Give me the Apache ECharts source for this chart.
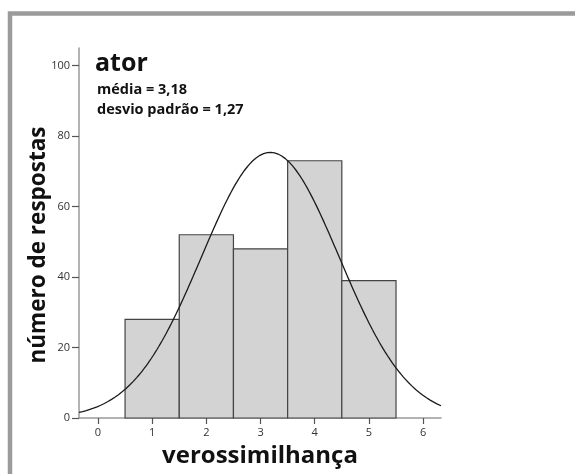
<!DOCTYPE html>
<html>
<head>
<meta charset="utf-8">
<script src="https://cdn.jsdelivr.net/npm/echarts@6/dist/echarts.min.js"></script>
<style>
  html, body { margin: 0; padding: 0; background: #fff; }
  #chart { width: 575px; height: 474px; }
</style>
</head>
<body>
<div id="chart"></div>
<script>
// Histogram of "verossimilhança" ratings for "ator", with a fitted normal curve
const binCenters = [1, 2, 3, 4, 5];
const binWidth = 1;
const counts = [28, 52, 48, 73, 39];
const xTicks = [0, 1, 2, 3, 4, 5, 6];
const yTicks = [0, 20, 40, 60, 80, 100];

const groupTitle = 'ator';
const xTitle = 'verossimilhança';
const yTitle = 'número de respostas';
const meanValue = 3.18;
const sdValue = 1.27;
const totalN = counts.reduce((a, b) => a + b, 0);

const xMin = -0.35, xMax = 6.33;

// Normal density scaled to counts (n * bin width * pdf)
const curve = [];
for (let i = 0; i <= 200; i++) {
  const x = xMin + (xMax - xMin) * i / 200;
  const z = (x - meanValue) / sdValue;
  const y = totalN * binWidth * Math.exp(-0.5 * z * z) / (sdValue * Math.sqrt(2 * Math.PI));
  curve.push([x, y]);
}

const bars = binCenters.map((c, i) => [c - binWidth / 2, c + binWidth / 2, counts[i]]);

const fmt = v => v.toFixed(2).replace('.', ',');
const font = '"Open Sans", "Noto Sans", sans-serif';

const chart = echarts.init(document.getElementById('chart'), null, { renderer: 'canvas' });
chart.setOption({
  animation: false,
  backgroundColor: '#fff',
  textStyle: { fontFamily: font },
  grid: { left: 79, right: 134, top: 48, bottom: 56, containLabel: false },
  xAxis: {
    type: 'value',
    min: xMin,
    max: xMax,
    interval: 1,
    name: xTitle,
    nameLocation: 'middle',
    nameGap: 26,
    nameTextStyle: { fontSize: 24, fontWeight: 'bold', color: '#111', fontFamily: font },
    axisLine: { show: true, onZero: false, lineStyle: { color: '#9a9a9a', width: 1.5 } },
    axisTick: { show: true, length: 6, lineStyle: { color: '#555', width: 1.2 },
      customValues: xTicks },
    axisLabel: { show: true, margin: 9, fontSize: 11, color: '#333', fontFamily: font,
      customValues: xTicks, formatter: v => String(v) },
    splitLine: { show: false }
  },
  yAxis: {
    type: 'value',
    min: 0,
    max: 105,
    interval: 20,
    axisLine: { show: true, onZero: false, lineStyle: { color: '#9a9a9a', width: 1.5 } },
    axisTick: { show: true, length: 7, lineStyle: { color: '#555', width: 1.2 },
      customValues: yTicks },
    axisLabel: { show: true, margin: 9, fontSize: 11, color: '#333', fontFamily: font,
      customValues: yTicks },
    splitLine: { show: false }
  },
  series: [
    {
      type: 'custom',
      data: bars,
      encode: { x: [0, 1], y: 2 },
      renderItem: (params, api) => {
        const p0 = api.coord([api.value(0), api.value(2)]);
        const p1 = api.coord([api.value(1), 0]);
        return {
          type: 'rect',
          shape: { x: p0[0], y: p0[1], width: p1[0] - p0[0], height: p1[1] - p0[1] },
          style: { fill: '#d3d3d3', stroke: '#444', lineWidth: 1.2 }
        };
      },
      z: 2
    },
    {
      type: 'line',
      data: curve,
      showSymbol: false,
      smooth: false,
      lineStyle: { color: '#1a1a1a', width: 1.3 },
      z: 3
    }
  ],
  graphic: [
    {
      type: 'polyline',
      shape: { points: [[10, 474], [10, 13.5], [575, 13.5]] },
      style: { stroke: '#9b9b9b', lineWidth: 4.5, fill: null },
      silent: true
    },
    {
      // vertical axis title
      type: 'text', x: 39, y: 245, rotation: Math.PI / 2,
      style: { text: yTitle, font: 'bold 22.5px ' + font, fill: '#111',
        align: 'center', verticalAlign: 'middle' }
    },
    {
      type: 'text', left: 95, top: 51,
      style: { text: groupTitle, font: 'bold 25px ' + font, fill: '#111' }
    },
    {
      type: 'text', left: 97, top: 82,
      style: { text: 'média = ' + fmt(meanValue), font: 'bold 14.5px ' + font, fill: '#111' }
    },
    {
      type: 'text', left: 97, top: 102,
      style: { text: 'desvio padrão = ' + fmt(sdValue), font: 'bold 14.5px ' + font, fill: '#111' }
    }
  ]
});
</script>
</body>
</html>
